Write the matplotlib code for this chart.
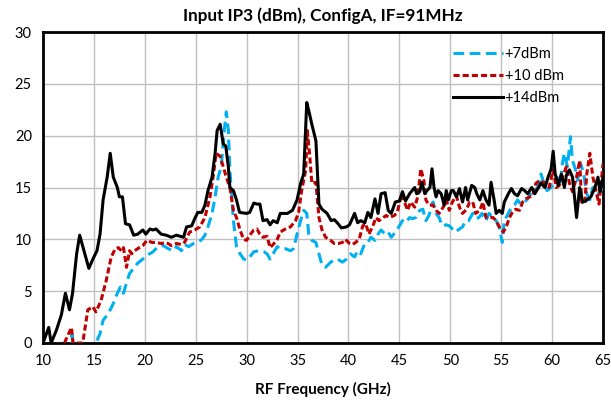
import matplotlib
matplotlib.use("Agg")
import matplotlib.pyplot as plt

plt.rcParams['font.family'] = ['Lato', 'DejaVu Sans']

# +14dBm LO drive (solid black)
x_14 = [10, 10.56, 10.8, 11.3, 11.8, 12.2, 12.6, 12.9, 13.3, 13.6, 14.1, 14.5, 14.9, 15.3,
        15.6, 15.9, 16.3, 16.6, 16.9, 17.3, 17.5, 17.8, 18.1, 18.5, 18.9, 19.3, 19.8, 20.1,
        20.5, 20.8, 21.1, 21.6, 22.1, 22.6, 23.1, 23.8, 24.1, 24.6, 24.9, 25.2, 25.6, 25.9,
        26.2, 26.6, 26.9, 27.1, 27.4, 27.7, 27.95, 28.2, 28.35, 28.7, 29, 29.3, 30, 30.3,
        30.7, 31, 31.3, 31.6, 32, 32.3, 32.6, 33, 33.3, 34, 34.5, 34.95, 35.3, 35.6, 35.9,
        36.1, 36.4, 36.8, 37.1, 37.4, 37.9, 38.3, 38.6, 38.9, 39.3, 39.8, 40.1, 40.6, 40.9,
        41.2, 41.6, 41.9, 42.2, 42.6, 42.9, 43.2, 43.6, 43.9, 44.2, 44.6, 45, 45.3, 45.6,
        46, 46.5, 46.7, 47, 47.2, 47.5, 47.7, 48, 48.2, 48.4, 48.6, 48.8, 49.1, 49.4, 49.6,
        49.8, 50.1, 50.3, 50.6, 50.9, 51.2, 51.5, 51.7, 52.1, 52.4, 52.6, 52.9, 53.2, 53.5,
        53.8, 54, 54.3, 54.5, 54.8, 55.1, 55.3, 55.7, 56, 56.3, 56.6, 57, 57.3, 57.6, 58,
        58.3, 58.6, 58.9, 59.3, 59.6, 59.9, 60.1, 60.3, 60.6, 60.9, 61.2, 61.4, 61.7, 62,
        62.4, 62.7, 63, 63.3, 63.8, 64.2, 64.5, 64.7, 65]
y_14 = [0, 1.5, 0, 1.2, 2.7, 4.8, 3.2, 4.8, 8.6, 10.4, 8.6, 7.2, 8.1, 8.9,
        10.5, 13.8, 16, 18.3, 16, 15, 14.1, 14.1, 11.5, 11.4, 10.4, 10.5, 10.9, 10.5,
        11, 10.9, 11, 10.5, 10.4, 10.2, 10.4, 10.2, 11.2, 11.3, 12, 12.6, 12.6, 13.3,
        14.7, 16, 18.3, 20.5, 21.1, 19.2, 19, 17, 15, 14.7, 13.8, 12.6, 12.5, 12.6,
        13.5, 13.4, 13.4, 11.8, 11.9, 11.4, 11.8, 11.6, 12.5, 12.5, 12.8, 13.8, 15.4, 16.3, 23.2,
        22.4, 21.1, 19.5, 13.4, 12.9, 12.5, 11.8, 11.9, 11.6, 11.1, 11.2, 11.4, 12.5, 11.6,
        11.8, 11.6, 12.6, 12.1, 13.9, 12.5, 14.4, 14.5, 12.8, 12.5, 13.6, 13.7, 14.6, 13.7,
        14.4, 15, 14.4, 14.6, 15.5, 14.4, 14.7, 15, 16.8, 15, 14.1, 14.7, 14.4, 13.3, 14.7,
        13.8, 14.7, 14.7, 14.1, 14.9, 13.6, 15, 13.8, 15.2, 15, 14.4, 13.8, 14.7, 13.8,
        13.3, 15.5, 13.8, 12.5, 12.8, 12.5, 13.6, 14.4, 14.9, 14.4, 14.2, 14.9, 14.7, 14.4, 15,
        14.4, 14.9, 15.4, 15, 16, 16.8, 18.5, 16.3, 15.2, 16.3, 15, 16.2, 16.7, 16,
        12.1, 15, 13.6, 13.7, 14.1, 15, 16, 14.6, 16]

# +10 dBm LO drive (dark red, short dashes)
x_10 = [12.1, 12.8, 12.95, 13.9, 14.4, 14.9, 15.2, 15.7, 16.2, 16.7, 17.1, 17.4, 17.7, 17.9,
        18.2, 18.5, 18.7, 19, 19.3, 19.8, 20.2, 20.7, 21.1, 21.6, 22.1, 22.6, 23.1, 23.6,
        23.9, 24.4, 24.9, 25.4, 25.9, 26.4, 26.7, 27.0, 27.4, 27.7, 28.0, 28.35, 28.7, 29,
        29.35, 29.7, 30, 30.3, 30.7, 31, 31.3, 31.6, 32, 32.3, 32.6, 33, 33.3, 33.8, 34.3,
        34.8, 35.1, 35.4, 35.8, 35.95, 36.2, 36.4, 36.8, 37.1, 37.4, 37.75, 38.25, 38.6, 39,
        39.4, 39.7, 40.1, 40.4, 40.7, 41.05, 41.4, 41.7, 42, 42.4, 42.7, 43, 43.4, 43.7, 44,
        44.5, 44.8, 45.2, 45.5, 45.8, 46.1, 46.5, 46.8, 47.1, 47.4, 47.6, 47.9, 48.3, 48.6,
        48.9, 49.3, 49.6, 49.9, 50.2, 50.6, 50.9, 51.2, 51.6, 51.9, 52.2, 52.5, 52.9, 53.2,
        53.5, 53.8, 54.2, 54.5, 54.8, 55.2, 55.5, 55.8, 56.1, 56.4, 56.8, 57.1, 57.4, 57.8,
        58.1, 58.4, 58.8, 59.1, 59.4, 59.7, 60.1, 60.4, 60.7, 61, 61.4, 61.7, 62, 62.4, 62.7,
        62.9, 63.2, 63.4, 63.7, 64, 64.3, 64.6, 65]
y_10 = [0, 1.5, 0, 0, 3.2, 3.5, 3, 4.1, 6, 8.3, 9.1, 9.2, 8.9, 9.2,
        7.3, 8.9, 8.6, 8.9, 9.1, 9.4, 9.9, 9.7, 9.7, 9.6, 9.7, 9.4, 9.6, 9.5,
        9.7, 10.7, 10.9, 11.2, 12.1, 14.1, 16, 18.3, 18, 17, 16, 15, 12.8, 12.1,
        10.9, 10, 9.9, 10.4, 10.9, 11, 10.5, 10.2, 10.3, 9.2, 9.5, 10, 10.7, 11, 11.2,
        11.8, 12.6, 14.7, 16.7, 20.5, 18, 15.4, 15.5, 12.1, 10.9, 10.2, 9.9, 9.6, 9.6,
        9.7, 10, 9.6, 9.5, 9.7, 10, 11.3, 11.5, 10.5, 11.3, 12.1, 11.8, 12.1, 12.3, 12.1,
        12.3, 12.6, 14.4, 13.6, 12.8, 13.6, 13.1, 14.1, 16.8, 15.7, 13.8, 13.3, 13.3, 12.8,
        12.5, 13.1, 13.8, 12.8, 13.6, 14.2, 13.1, 12.5, 12.9, 13.6, 13.6, 12.5, 12.8, 13.6,
        12.1, 12.1, 12.1, 11.8, 11.2, 10.7, 11.2, 12.1, 12.6, 12.9, 12.8, 13.6, 13.9, 14.1,
        14.2, 15.4, 15.7, 15.5, 15.4, 15, 16.7, 15, 15.2, 16, 17, 15.4, 14.6, 16, 17.6,
        13.6, 13.4, 16.3, 18.3, 16, 14.7, 13.4, 17.3]

# +7dBm LO drive (light blue, long dashes)
x_7 = [12.7, 12.85, 13.0, 15.2, 15.6, 15.9, 16.4, 16.9, 17.3, 17.6, 17.9, 18.2, 18.5, 18.9,
       19.3, 19.8, 20.3, 20.8, 21.3, 21.8, 22.3, 22.8, 23.1, 23.6, 23.9, 24.3, 24.8, 25.2,
       25.6, 25.9, 26.2, 26.6, 26.9, 27.2, 27.5, 27.8, 28.0, 28.2, 28.35, 28.7, 29, 29.35,
       29.7, 30, 30.3, 30.7, 31.2, 31.7, 32, 32.3, 32.6, 33, 33.3, 33.8, 34.3, 34.6, 34.95,
       35.3, 35.6, 35.9, 36.1, 36.4, 36.8, 37.1, 37.4, 37.75, 38.25, 38.6, 38.9, 39.4, 39.7,
       40.2, 40.6, 40.9, 41.2, 41.6, 41.9, 42.2, 42.6, 42.9, 43.2, 43.6, 43.9, 44.2, 44.6,
       45, 45.3, 45.6, 46, 46.3, 46.6, 47, 47.3, 47.6, 47.9, 48.3, 48.6, 48.9, 49.2, 49.6,
       49.9, 50.2, 50.5, 50.9, 51.2, 51.5, 51.8, 52.2, 52.5, 52.8, 53.1, 53.5, 53.8, 54.2,
       54.5, 54.8, 55.1, 55.3, 55.7, 56, 56.3, 56.6, 56.9, 57.3, 57.6, 57.9, 58.2, 58.6,
       58.9, 59.2, 59.5, 59.9, 60.2, 60.5, 60.8, 61, 61.2, 61.5, 61.8, 62, 62.3, 62.5, 62.8,
       63.1, 63.4, 63.7, 64, 64.4, 64.7, 65]
y_7 = [-1, 0.8, -1, 0, 0.9, 2.2, 2.8, 3.8, 4.8, 5.4, 4.8, 5.8, 6.7, 7.2,
       7.7, 8.1, 8.5, 8.8, 9.3, 9.4, 9.1, 8.9, 9.3, 8.9, 9.5, 9.3, 9.6, 9.7,
       10, 10.4, 11.2, 12.5, 14.1, 16, 17, 20.5, 22.3, 20.5, 16.7, 11.8, 9.3, 8.6,
       8.1, 8, 8.3, 8.8, 8.9, 8.8, 8.6, 8.1, 8.6, 9.3, 9.1, 9.1, 8.9, 9.1, 10.5,
       11.8, 12.8, 12.5, 10.5, 9.9, 9.7, 8.6, 7.5, 7.3, 7.8, 8, 8.1, 7.8, 8,
       8.6, 8.3, 8.9, 8.6, 9.6, 9.7, 10.2, 9.9, 10.5, 10.9, 10.5, 10.7, 10.2, 10.7,
       11.3, 11.8, 11.6, 12.1, 12, 12.1, 12.8, 12.9, 11.8, 12.3, 13.6, 12.5, 12.1, 11.3, 11.4,
       11.3, 11, 10.7, 11, 11.2, 11.8, 11.8, 12.5, 12, 12.1, 12.5, 11.8, 12.5, 12.1,
       11.8, 11.2, 9.7, 11.8, 12.5, 13.1, 13.3, 13.8, 13.4, 13.6, 13.9, 14.4, 14.7, 15,
       16.3, 15.4, 14.7, 15, 15.4, 16, 15.2, 17.3, 18.3, 17, 19.9, 17.6, 16.7, 15.7, 17.3,
       16.3, 14.4, 13.8, 15, 14.1, 14.7, 14.9]

fig = plt.figure(figsize=(6.11, 4.0), dpi=100)
ax = fig.add_axes([0.0704, 0.1425, 0.9166, 0.7775])

ax.plot(x_7, y_7, color='#00B0F0', lw=2.2, dashes=(3.5, 1.8), label='+7dBm', zorder=3)
ax.plot(x_10, y_10, color='#C00000', lw=2.2, dashes=(2.0, 1.0), label='+10 dBm', zorder=4)
ax.plot(x_14, y_14, color='black', lw=2.2, label='+14dBm', zorder=5)

ax.set_xlim(10, 65)
ax.set_ylim(0, 30)
ax.set_xticks(range(10, 66, 5))
ax.set_yticks(range(0, 31, 5))
ax.grid(True, color='#BFBFBF', lw=1)
ax.set_axisbelow(True)
ax.tick_params(length=0, labelsize=10.5, pad=8)
for sp in ax.spines.values():
    sp.set_linewidth(2)
    sp.set_color('black')

ax.set_title('Input IP3 (dBm), ConfigA, IF=91MHz', fontsize=12.3, fontweight='bold', pad=8)
ax.set_xlabel('RF Frequency (GHz)', fontsize=11, fontweight='bold', labelpad=10)

ax.legend(loc='upper left', bbox_to_anchor=(0.732, 0.952), frameon=False, fontsize=10.5,
          handlelength=3.4, handletextpad=0.15, labelspacing=0.55, borderpad=0, borderaxespad=0)

fig.savefig('out.png', dpi=100)
